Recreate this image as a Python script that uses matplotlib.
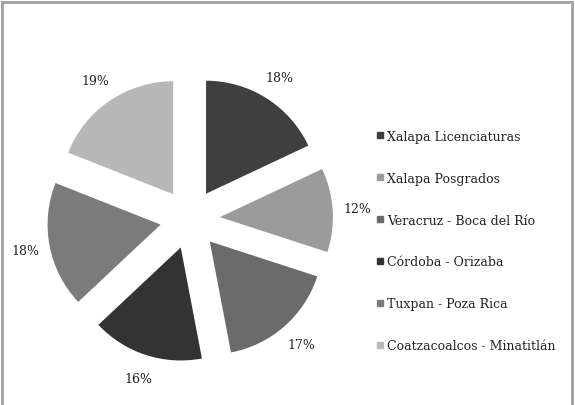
import numpy as np
import matplotlib.pyplot as plt
from matplotlib.lines import Line2D
from matplotlib.patches import Rectangle

# datos del gráfico
regiones = ['Xalapa Licenciaturas', 'Xalapa Posgrados', 'Veracruz - Boca del Río',
            'Córdoba - Orizaba', 'Tuxpan - Poza Rica', 'Coatzacoalcos - Minatitlán']
porcentajes = [18, 12, 17, 16, 18, 19]
colores = ['#3f3f3f', '#9b9b9b', '#6b6b6b', '#333333', '#7b7b7b', '#b8b8b8']

plt.rcParams['font.family'] = ['DejaVu Serif']
fs = 9

W, H = 575, 406
fig = plt.figure(figsize=(W / 100, H / 100), dpi=100)
fig.patch.set_facecolor('white')

# centro y radio del pastel en pixeles
cx, cy, r = 190, 220, 113
ax = fig.add_axes([0, 0, 1, 1])
ax.pie(porcentajes, colors=colores, startangle=90, counterclock=False,
       explode=[0.265] * len(porcentajes), radius=1,
       autopct='%1.0f%%', pctdistance=1.22,
       textprops={'fontsize': fs, 'color': '#222222'},
       wedgeprops={'linewidth': 0})
ax.set_aspect('auto')
ax.set_xlim(-cx / r, (W - cx) / r)
ax.set_ylim(-(H - cy) / r, cy / r)
ax.axis('off')

handles = [Line2D([0], [0], marker='s', ls='', color=c, markersize=5) for c in colores]
leg = fig.legend(handles, regiones, loc='center left', bbox_to_anchor=(371 / W, 1 - 242 / H),
                 frameon=False, fontsize=fs, handlelength=0.6, handletextpad=0.3,
                 labelspacing=2.31, borderaxespad=0)
for t in leg.get_texts():
    t.set_color('#222222')

# marco gris
fig.patches.append(Rectangle((2 / W, -0.02), 570 / W, (H - 3) / H + 0.02,
                             transform=fig.transFigure, fill=False,
                             edgecolor='#a0a0a0', lw=2))

fig.savefig('out.png', dpi=100)
